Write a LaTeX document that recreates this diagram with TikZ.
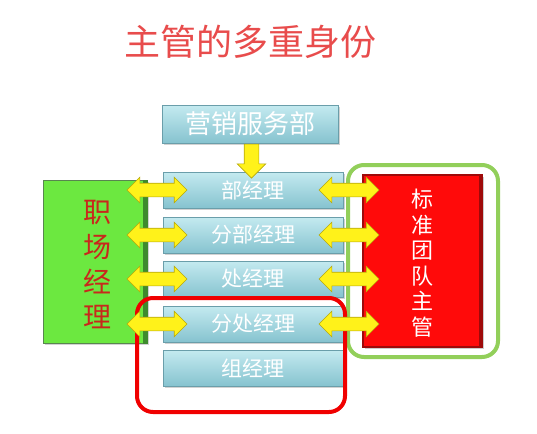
\documentclass[tikz,border=0pt]{standalone}
\usepackage{fontspec}
\newfontfamily\cjk{Noto Sans CJK SC}
\usetikzlibrary{shapes.arrows,calc,shadows}
\definecolor{titlered}{HTML}{E84C4C}
\definecolor{boxtop}{HTML}{C4EAF0}
\definecolor{boxbot}{HTML}{86C3CF}
\definecolor{boxedge}{HTML}{6A9EAA}
\definecolor{gfill}{HTML}{6CE840}
\definecolor{gedge}{HTML}{3E8A2E}
\definecolor{gtext}{HTML}{C8281C}
\definecolor{rfill}{HTML}{FF0A0A}
\definecolor{redge}{HTML}{9E0A0A}
\definecolor{ringgreen}{HTML}{92CF5A}
\definecolor{ringred}{HTML}{F00000}
\definecolor{arrfill}{HTML}{FFF21A}
\definecolor{arredge}{HTML}{B7A80C}
\tikzset{
  rolebox/.style={draw=boxedge, line width=1pt, top color=boxtop, bottom color=boxbot,
    minimum width=180pt, minimum height=36pt, inner sep=0pt,
    text=white, font=\cjk\fontsize{21}{21}\selectfont,
    drop shadow={shadow xshift=2pt, shadow yshift=-2pt, fill=black!35, opacity=0.5}},
  dblarrow/.style={double arrow, draw=arredge, line width=0.6pt, fill=arrfill,
    minimum height=60pt, minimum width=25pt, double arrow head extend=6pt,
    inner xsep=0pt, inner ysep=6.5pt, text height=0pt, text depth=0pt},
  ring/.style={rounded corners=16pt, line width=4pt}
}
\begin{document}
\begin{tikzpicture}[x=1pt,y=-1pt]
\useasboundingbox (0,0) rectangle (537,433);
% title
\node[text=titlered, font=\cjk\fontsize{36}{36}\selectfont] (title) at (250,42) {主管的多重身份};
% top box
\node[rolebox, minimum width=176pt, minimum height=38pt, font=\cjk\fontsize{26}{26}\selectfont] (top) at (250,124) {营销服务部};
% middle boxes
\node[rolebox] (b1) at (253,190) {部经理};
\node[rolebox] (b2) at (253,235) {分部经理};
\node[rolebox] (b3) at (253,279) {处经理};
\node[rolebox] (b4) at (253,324) {分处经理};
\node[rolebox] (b5) at (253,368) {组经理};
% green box
\node[draw=gedge!60!gray, line width=1pt, fill=gfill, minimum width=104pt, minimum height=163pt,
  inner sep=0pt, drop shadow={shadow xshift=2pt, shadow yshift=-2pt, fill=black!35, opacity=0.5}] (green) at (95,261.5) {};
\fill[gedge] ([xshift=-5pt]green.north east) rectangle (green.south east);
\node[text=gtext, font=\cjk\fontsize{28}{35}\selectfont, align=center] (gtxt) at (97,265) {职\\场\\经\\理};
% red box
\node[draw=redge, line width=1.2pt, fill=rfill, minimum width=119pt, minimum height=172pt,
  inner sep=0pt, drop shadow={shadow xshift=2pt, shadow yshift=-2pt, fill=black!40, opacity=0.5}] (red) at (422.5,261) {};
\fill[redge] ([xshift=-4pt]red.north east) rectangle (red.south east);
\node[text=white, font=\cjk\fontsize{22}{25.5}\selectfont, align=center] (rtxt) at (422,263) {标\\准\\团\\队\\主\\管};
% rings
\draw[ring, draw=ringgreen] (348,165) rectangle (498,357);
\draw[ring, draw=ringred] (137,298) rectangle (345,412);
% down arrow
\node[single arrow, shape border rotate=270, draw=arredge, line width=0.6pt, fill=arrfill,
  minimum height=34pt, minimum width=28pt, single arrow head extend=7pt,
  inner sep=7pt, text height=0pt, text depth=0pt, text width=0pt] (down)
  at ($(top.south)!0.5!(b1.north)$) {};
% double arrows left
\foreach \b/\n in {b1/la1,b2/la2,b3/la3,b4/la4}{
  \node[dblarrow] (\n) at (157,0 |- \b) {};
}
% double arrows right
\foreach \b/\n in {b1/ra1,b2/ra2,b3/ra3,b4/ra4}{
  \node[dblarrow] (\n) at (349,0 |- \b) {};
}
\end{tikzpicture}
\end{document}
